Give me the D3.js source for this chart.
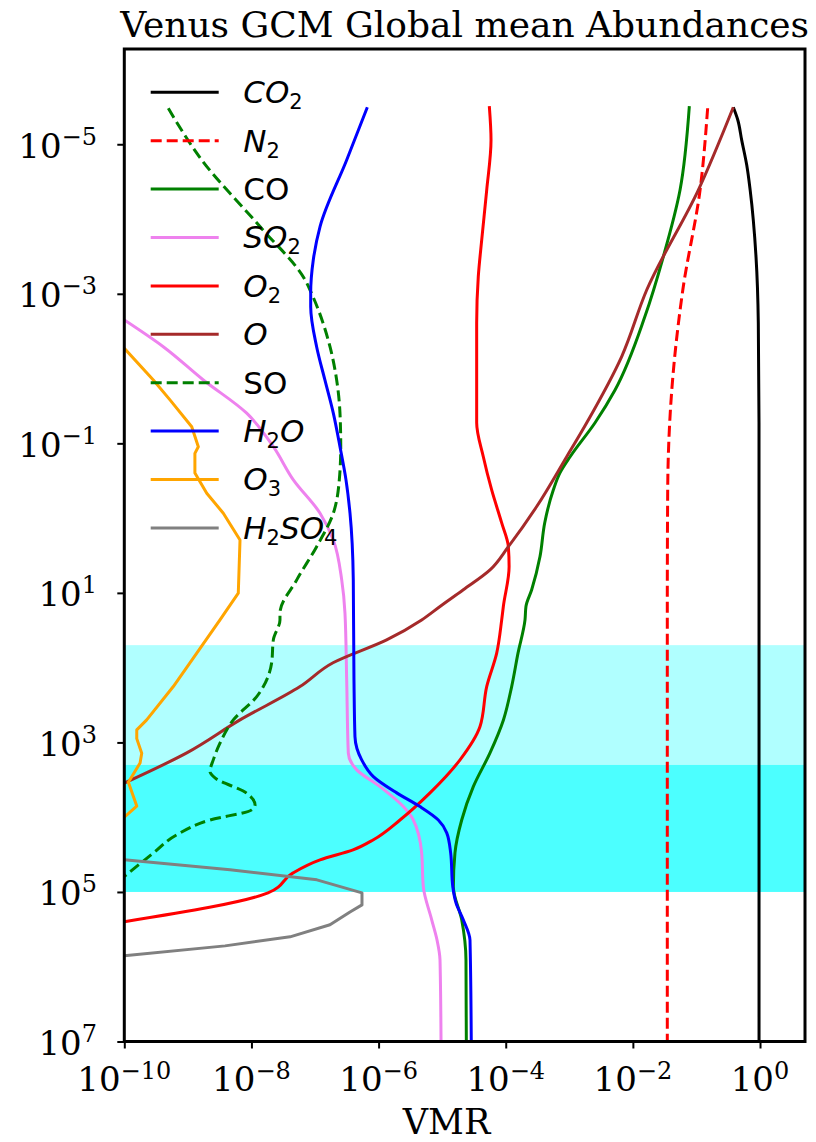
<!DOCTYPE html>
<html><head><meta charset="utf-8">
<script src="https://cdn.jsdelivr.net/npm/d3@7"></script>
<style>body{margin:0;background:#fff} svg{display:block}</style>
</head><body>
<svg id="c" width="816" height="1142"></svg>
<script>
// ---------- DATA: each profile is [pressure, VMR] ----------
const CO2 = [[3.2e-6,0.38],[4.7e-6,0.446],[8.8e-6,0.515],[1.9e-5,0.618],[4.1e-5,0.70],[3.2e-4,0.865],[2.45e-3,0.94],[5.3e-2,0.964],[1e7,0.965]];
const N2 = [[3.3e-6,0.150],[4.1e-5,0.114],[8.9e-4,0.061],[1.9e-2,0.041],[0.42,0.0353],[15,0.0348],[1e7,0.0348]];
const CO = [[3.1e-6,0.0773],[4.1e-5,0.0552],[3.2e-4,0.0301],[2.0e-3,0.0155],[1.93e-2,5.24e-3],[5.3e-2,2.54e-3],[0.151,1.03e-3],[0.25,7.1e-4],[0.42,5.6e-4],[1.16,4.1e-4],[3.27,3.46e-4],[9.1,2.56e-4],[15.2,2.08e-4],[23,2.01e-4],[64,1.56e-4],[179,1.24e-4],[500,9.2e-5],[1380,5.66e-5],[3900,3.09e-5],[1.09e4,2.03e-5],[3.0e4,1.59e-5],[8.5e4,1.50e-5],[2.36e5,2.03e-5],[8.1e5,2.37e-5],[1e7,2.4e-5]];
const SO2 = [[2.24e-3,1.0e-10],[5.1e-3,4.1e-10],[1.42e-2,1.75e-9],[3.95e-2,8.42e-9],[0.111,2.21e-8],[0.308,4.56e-8],[0.86,1.20e-7],[1.96,1.94e-7],[6.7,2.63e-7],[18.7,2.96e-7],[146,3.15e-7],[1393,3.34e-7],[2328,4.53e-7],[3900,1.05e-6],[7214,2.45e-6],[1.09e4,3.52e-6],[3.0e4,4.76e-6],[8.5e4,5.05e-6],[2.36e5,6.85e-6],[4.4e5,8.3e-6],[8.1e5,9.25e-6],[1e7,9.6e-6]];
const O2 = [[3.1e-6,5.52e-5],[8.8e-6,5.87e-5],[4.1e-5,5.02e-5],[1.9e-4,4.19e-5],[5.9e-4,3.70e-5],[2.45e-3,3.49e-5],[5.3e-2,3.49e-5],[0.151,4.44e-5],[0.42,6.01e-5],[1.16,8.64e-5],[2.41,1.10e-4],[4.45,1.13e-4],[15.2,9.17e-5],[23,8.64e-5],[64,7.21e-5],[179,5.02e-5],[614,3.94e-5],[1711,1.91e-5],[4731,6.44e-6],[1.09e4,2.17e-6],[2.0e4,8.3e-7],[2.74e4,3.96e-7],[3.72e4,1.20e-7],[5.56e4,4.51e-8],[1.03e5,1.82e-8],[2.5e5,1.0e-10]];
const O = [[3.2e-6,0.38],[4.1e-5,0.107],[8.9e-4,0.0165],[6.9e-3,6.67e-3],[5.3e-2,1.88e-3],[0.151,9.1e-4],[0.70,3.07e-4],[2.41,1.10e-4],[4.93,5.66e-5],[9.1,2.15e-5],[15.2,9.25e-6],[23,4.76e-6],[42.5,1.34e-6],[86,1.92e-7],[179,5.81e-8],[500,6.61e-9],[1380,9.6e-10],[3500,1.0e-10]];
const SO = [[3.3e-6,4.92e-10],[1.62e-5,1.65e-9],[1.26e-4,1.36e-8],[6.5e-4,6.97e-8],[1.0e-3,8.87e-8],[5.1e-3,1.72e-7],[1.42e-2,2.19e-7],[3.95e-2,2.47e-7],[0.111,2.54e-7],[0.308,2.41e-7],[0.86,1.94e-7],[2.41,1.06e-7],[6.7,5.16e-8],[18.7,2.81e-8],[23,2.81e-8],[42.5,2.21e-8],[86,2.08e-8],[179,1.54e-8],[244,1.21e-8],[500,5.19e-9],[1023,3.2e-9],[1711,2.51e-9],[2455,2.23e-9],[2980,2.67e-9],[4775,8.42e-9],[6845,1.14e-8],[7980,1.01e-8],[1.09e4,2.23e-9],[1.72e4,6.67e-10],[3.02e4,2.86e-10],[6.2e4,1.0e-10]];
const H2O = [[3.2e-6,6.65e-7],[1.62e-5,3.15e-7],[1.26e-4,1.20e-7],[3.5e-4,9.4e-8],[9.8e-4,8.55e-8],[1.49e-3,8.55e-8],[5.1e-3,1.06e-7],[1.42e-2,1.43e-7],[3.95e-2,1.94e-7],[0.111,2.47e-7],[0.308,3.07e-7],[0.86,3.55e-7],[6.7,4.0e-7],[146,4.10e-7],[836,4.25e-7],[1711,5.42e-7],[2862,8.27e-7],[4731,1.93e-6],[7214,4.48e-6],[1.09e4,8.7e-6],[1.62e4,1.18e-5],[3.0e4,1.36e-5],[8.5e4,1.47e-5],[1.4e5,1.65e-5],[2.36e5,2.15e-5],[4.4e5,2.74e-5],[1e7,2.87e-5]];
const O3 = [[5.35e-3,1.0e-10],[1.42e-2,2.86e-10],[2.62e-2,5.23e-10],[6.0e-2,1.15e-9],[0.111,1.46e-9],[0.136,1.29e-9],[0.25,1.29e-9],[0.465,1.98e-9],[0.86,3.61e-9],[1.96,6.61e-9],[10.1,6.21e-9],[23,3.20e-9],[64,1.38e-9],[179,5.9e-10],[500,2.25e-10],[679,1.57e-10],[890,1.57e-10],[1393,1.88e-10],[1890,1.77e-10],[3400,1.16e-10],[7100,1.57e-10],[1.0e4,1.0e-10]];
const H2SO4 = [[3.72e4,1.0e-10],[5.06e4,4.6e-9],[6.89e4,1.07e-7],[1.03e5,5.48e-7],[1.49e5,5.48e-7],[1.85e5,3.55e-7],[2.75e5,1.72e-7],[3.98e5,4.05e-8],[5.26e5,3.84e-9],[7.15e5,1.0e-10]];

const profiles = [CO2, N2, CO, SO2, O2, O, SO, H2O, O3, H2SO4];
const labels = ["CO_2","N_2","CO","SO_2","O_2","O","SO","H_2O","O_3","H_2SO_4"];
const italic = [true,true,false,true,true,true,false,true,true,true];
const xTicks = [1e-10,1e-8,1e-6,1e-4,1e-2,1e0];
const yTicks = [1e-5,1e-3,1e-1,1e1,1e3,1e5,1e7];
const bands = [[50,2000],[2000,1e5]];
const xDomain = [1e-10, 5.1];
const yDomain = [Math.pow(10,-6.274), 1e7];
const title = "Venus GCM Global mean Abundances";
const xLabel = "VMR";

// ---------- STYLE ----------
const colors = ["#000000","#ff0000","#008000","#ee82ee","#ff0000","#a52a2a","#008000","#0000ff","#ffa500","#808080"];
const dashes = [null,"11,5",null,null,null,null,"11,5",null,null,null];
const smooth = [true,true,true,true,true,true,true,true,false,false];
const bandOpacity = [0.31,0.70];
const L = 124.3, R = 805, T = 49, B = 1041.5;
const serif = "DejaVu Serif", sans = "DejaVu Sans";

const svg = d3.select("#c");
const x = d3.scaleLog().domain(xDomain).range([L,R]);
const y = d3.scaleLog().domain(yDomain).range([T,B]);

svg.append("clipPath").attr("id","clip").append("rect")
  .attr("x",L).attr("y",T).attr("width",R-L).attr("height",B-T);

const plot = svg.append("g").attr("clip-path","url(#clip)");
plot.selectAll("rect.band").data(bands).join("rect").attr("class","band")
  .attr("x",L).attr("width",R-L)
  .attr("y",d=>y(d[0])).attr("height",d=>y(d[1])-y(d[0]))
  .attr("fill","#00ffff").attr("fill-opacity",(d,i)=>bandOpacity[i]);

const lineS = d3.line().x(d=>x(d[1])).y(d=>y(d[0])).curve(d3.curveMonotoneY);
const lineL = d3.line().x(d=>x(d[1])).y(d=>y(d[0]));
plot.selectAll("path.prof").data(profiles).join("path").attr("class","prof")
  .attr("d",(d,i)=>(smooth[i]?lineS:lineL)(d)).attr("fill","none")
  .attr("stroke",(d,i)=>colors[i]).attr("stroke-width",3)
  .attr("stroke-dasharray",(d,i)=>dashes[i])
  .attr("stroke-linejoin","round");

// axes ticks
const xa = svg.append("g").attr("transform",`translate(0,${B})`)
  .call(d3.axisBottom(x).tickValues(xTicks).tickFormat("").tickSize(7).tickSizeOuter(0));
const ya = svg.append("g").attr("transform",`translate(${L},0)`)
  .call(d3.axisLeft(y).tickValues(yTicks).tickFormat("").tickSize(7).tickSizeOuter(0));
[xa,ya].forEach(a=>{a.select(".domain").remove(); a.selectAll(".tick line").attr("stroke","#000").attr("stroke-width",2);});

function expo(v){ const e = Math.round(Math.log10(v)); return (e<0?"\u2212":"")+Math.abs(e); }

// x tick labels
xTicks.forEach(v=>{
  const t = svg.append("text").attr("x",x(v)).attr("y",1091).attr("text-anchor","middle")
    .attr("font-family",serif).attr("font-size",34).attr("fill","#000");
  t.append("tspan").text("10");
  t.append("tspan").attr("dy",-12).attr("font-size",24).text(expo(v));
});
// y tick labels
yTicks.forEach(v=>{
  const t = svg.append("text").attr("x",97).attr("y",y(v)+13.5).attr("text-anchor","end")
    .attr("font-family",serif).attr("font-size",34).attr("fill","#000");
  t.append("tspan").text("10");
  t.append("tspan").attr("dy",-13).attr("font-size",24).text(expo(v));
});

// frame
svg.append("rect").attr("x",L).attr("y",T).attr("width",R-L).attr("height",B-T)
  .attr("fill","none").attr("stroke","#000").attr("stroke-width",3);

// title and label
svg.append("text").attr("x",(L+R)/2).attr("y",37).attr("text-anchor","middle")
  .attr("font-family",serif).attr("font-size",36).attr("fill","#000").text(title);
svg.append("text").attr("x",446.5).attr("y",1133.5).attr("text-anchor","middle")
  .attr("font-family",serif).attr("font-size",35).attr("fill","#000").text(xLabel);

// legend
function parts(s){
  const out=[]; let i=0;
  while(i<s.length){
    if(s[i]==="_"){ out.push({t:s[i+1],sub:true}); i+=2; }
    else { let j=i; while(j<s.length && s[j]!=="_") j++; out.push({t:s.slice(i,j),sub:false}); i=j; }
  }
  return out;
}
const lg = svg.append("g");
labels.forEach((lab,i)=>{
  const yy = 92.3 + i*48.4;
  lg.append("line").attr("x1",150.7).attr("x2",218.7).attr("y1",yy).attr("y2",yy)
    .attr("stroke",colors[i]).attr("stroke-width",3).attr("stroke-dasharray",dashes[i]);
  const t = lg.append("text").attr("x",243.3).attr("y",yy+10.8)
    .attr("font-family",sans).attr("font-size",31).attr("fill","#000");
  let low=false;
  parts(lab).forEach(p=>{
    const ts = t.append("tspan").text(p.t);
    if(p.sub){ ts.attr("font-size",21).attr("font-style","normal"); if(!low){ts.attr("dy",6); low=true;} }
    else { ts.attr("font-style",italic[i]?"italic":"normal"); if(low){ts.attr("dy",-6); low=false;} }
  });
});
</script>
</body></html>
